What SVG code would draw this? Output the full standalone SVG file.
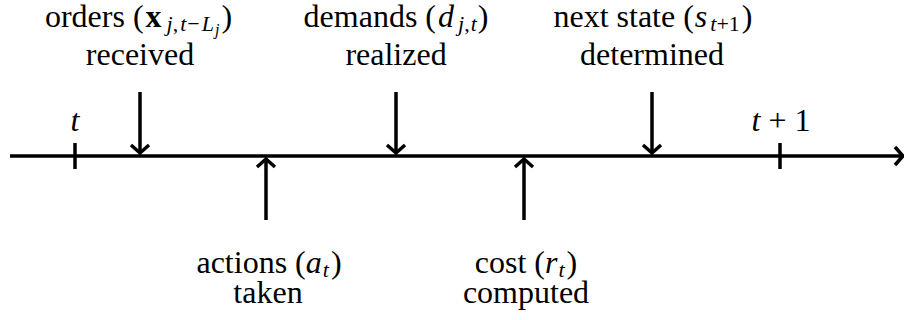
<svg xmlns="http://www.w3.org/2000/svg" width="904" height="320" viewBox="0 0 904 320">
<style>
.ln{stroke:#000;stroke-width:3.5;fill:none}
</style>
<defs>
<marker id="ah" markerUnits="userSpaceOnUse" markerWidth="30" markerHeight="30" viewBox="-15 -15 30 30" refX="0" refY="0" orient="auto" overflow="visible">
<path d="M-8,-9 L0,0 L-8,9" fill="none" stroke="#000" stroke-width="3.5"/>
</marker>
</defs>
<g id="connectors">
<line id="axis" class="ln" x1="10" y1="156" x2="903" y2="156" marker-end="url(#ah)"/>
<line class="ln" x1="75" y1="143" x2="75" y2="169"/>
<line class="ln" x1="780" y1="143" x2="780" y2="169"/>
<line class="ln" x1="140" y1="92" x2="140" y2="153" marker-end="url(#ah)"/>
<line class="ln" x1="396" y1="92" x2="396" y2="153" marker-end="url(#ah)"/>
<line class="ln" x1="652" y1="92" x2="652" y2="153" marker-end="url(#ah)"/>
<line class="ln" x1="266" y1="220" x2="266" y2="159" marker-end="url(#ah)"/>
<line class="ln" x1="524" y1="220" x2="524" y2="159" marker-end="url(#ah)"/>
</g>
<g id="tick-t"><text x="75" y="131" font-family="Liberation Serif" font-size="32" text-anchor="middle" font-style="italic">t</text></g>
<g id="tick-t1"><text x="781" y="131" font-family="Liberation Serif" font-size="32" text-anchor="middle"><tspan font-style="italic">t</tspan> + 1</text></g>
<g id="orders">
<text x="138.5" y="27" font-family="Liberation Serif" font-size="32" text-anchor="middle">orders (<tspan font-weight="bold" dx="2">x</tspan><tspan font-size="22" font-style="italic" dx="5" dy="4">j</tspan><tspan font-size="22">,</tspan><tspan font-size="22" font-style="italic" dx="2">t</tspan><tspan font-size="22" dx="1">−</tspan><tspan font-size="22" font-style="italic" dx="2">L</tspan><tspan font-size="16" font-style="italic" dx="1" dy="4">j</tspan><tspan dx="2" dy="-8">)</tspan></text>
<text x="140" y="65" font-family="Liberation Serif" font-size="32" text-anchor="middle">received</text>
</g>
<g id="demands">
<text x="396" y="27" font-family="Liberation Serif" font-size="32" text-anchor="middle">demands (<tspan font-style="italic" dx="2">d</tspan><tspan font-size="22" font-style="italic" dx="4" dy="4">j</tspan><tspan font-size="22">,</tspan><tspan font-size="22" font-style="italic" dx="1">t</tspan><tspan dx="1" dy="-4">)</tspan></text>
<text x="396" y="65" font-family="Liberation Serif" font-size="32" text-anchor="middle">realized</text>
</g>
<g id="next-state">
<text x="653" y="27" font-family="Liberation Serif" font-size="32" text-anchor="middle">next state (<tspan font-style="italic" dx="1">s</tspan><tspan font-size="22" font-style="italic" dx="3" dy="4">t</tspan><tspan font-size="22">+1</tspan><tspan dx="2" dy="-4">)</tspan></text>
<text x="652" y="65" font-family="Liberation Serif" font-size="32" text-anchor="middle">determined</text>
</g>
<g id="actions">
<text x="269" y="273" font-family="Liberation Serif" font-size="32" text-anchor="middle">actions (<tspan font-style="italic">a</tspan><tspan font-size="22" font-style="italic" dx="1" dy="4">t</tspan><tspan dx="2" dy="-4">)</tspan></text>
<text x="268" y="303" font-family="Liberation Serif" font-size="32" text-anchor="middle">taken</text>
</g>
<g id="cost">
<text x="526" y="273" font-family="Liberation Serif" font-size="32" text-anchor="middle">cost (<tspan font-style="italic">r</tspan><tspan font-size="22" font-style="italic" dx="1" dy="4">t</tspan><tspan dx="2" dy="-4">)</tspan></text>
<text x="526" y="303" font-family="Liberation Serif" font-size="32" text-anchor="middle">computed</text>
</g>
</svg>
